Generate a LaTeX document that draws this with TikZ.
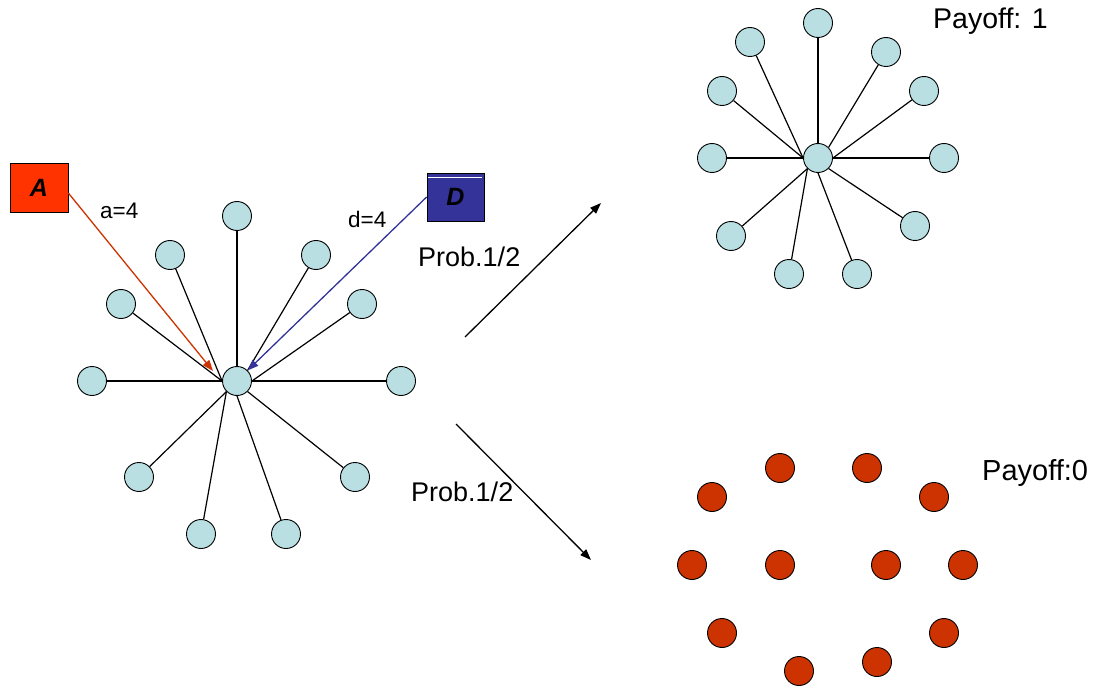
\documentclass[tikz,border=0pt]{standalone}
\usepackage{fontspec}
\setmainfont{Liberation Sans}
\usetikzlibrary{arrows.meta}
\definecolor{leaf}{HTML}{B9DFE2}
\definecolor{lost}{HTML}{CC3300}
\definecolor{abox}{HTML}{FF3300}
\definecolor{aline}{HTML}{CC3300}
\definecolor{dbox}{HTML}{333399}
\begin{document}
\begin{tikzpicture}[x=1pt,y=-1pt,
  vert/.style={circle, draw=black, line width=0.9pt, fill=leaf, minimum size=29pt, inner sep=0pt},
  gone/.style={vert, fill=lost},
  spoke/.style={line width=1.2pt},
  player/.style={rectangle, draw=black, line width=0.7pt, inner sep=0pt,
    font=\fontsize{25}{25}\selectfont\bfseries\itshape},
  lbl/.style={inner sep=0pt, text height=0.716em, text depth=0pt, anchor=west},
  tip/.style={-{Triangle[length=11pt,width=8pt]}},
  move/.style={line width=1.3pt, -{Triangle[length=11pt,width=8pt]}}]
\useasboundingbox (0,0) rectangle (1104,690);

% ---- left star: the targeted hub and its leaves ----
\node[vert] (h1) at (237,381) {};
\node[vert] (l1n)  at (237,216) {};
\node[vert] (l1a)  at (170,255) {};
\node[vert] (l1b)  at (316,255) {};
\node[vert] (l1c)  at (121,304) {};
\node[vert] (l1d)  at (362,304) {};
\node[vert] (l1w)  at (92,381) {};
\node[vert] (l1e)  at (401,381) {};
\node[vert] (l1f)  at (139,477) {};
\node[vert] (l1g)  at (355,477) {};
\node[vert] (l1h)  at (201,534) {};
\node[vert] (l1i)  at (286,534) {};
\draw[spoke] (l1n) -- (h1.north);
\draw[spoke] (l1a) -- (h1.west);
\draw[spoke] (l1c) -- (h1.west);
\draw[spoke] (l1w) -- (h1.west);
\draw[spoke] (l1b) -- (h1.north east);
\draw[spoke] (l1d) -- (h1.east);
\draw[spoke] (l1e) -- (h1.east);
\draw[spoke] (l1f) -- (h1.south west);
\draw[spoke] (l1h) -- (h1.south west);
\draw[spoke] (l1i) -- (h1.south);
\draw[spoke] (l1g) -- (h1.south east);

% ---- attacker and defender ----
\node[player, fill=abox, minimum width=58pt, minimum height=49pt] (A) at (39,187.5) {A};
\node[player, fill=dbox, minimum width=57pt, minimum height=48pt] (D) at (455.5,197) {D};
\draw[white, line width=1pt] (D.north west) ++(1.5pt,-5pt) -- ++(54pt,0);
\coordinate (atip) at (213,371);
\draw[aline, line width=1.3pt, tip] ([yshift=-5.5pt]A.east) -- (atip);
\draw[dbox, line width=1.3pt, tip] (D.west) -- (h1.north east);
\node[lbl, font=\fontsize{22.5}{22.5}\selectfont] (la) at (100,215) {a=4};
\node[lbl, font=\fontsize{22.5}{22.5}\selectfont] (ld) at (348,224) {d=4};

% ---- the two outcomes ----
\coordinate (up0) at (465,337);
\coordinate (up1) at (601,203);
\coordinate (dn0) at (456,424);
\coordinate (dn1) at (591,560);
\draw[move] (up0) -- (up1);
\draw[move] (dn0) -- (dn1);
\node[lbl, font=\fontsize{27}{27}\selectfont] (pu) at (418,263) {Prob.1/2};
\node[lbl, font=\fontsize{27}{27}\selectfont] (pd) at (411,498) {Prob.1/2};

% ---- defended: star survives ----
\node[vert] (h2) at (818,158) {};
\node[vert] (r2n) at (818,23) {};
\node[vert] (r2a) at (750,42) {};
\node[vert] (r2b) at (886,52) {};
\node[vert] (r2c) at (722,91) {};
\node[vert] (r2d) at (924,91) {};
\node[vert] (r2w) at (712,158) {};
\node[vert] (r2e) at (944,158) {};
\node[vert] (r2f) at (731,236) {};
\node[vert] (r2g) at (915,226) {};
\node[vert] (r2h) at (789,274) {};
\node[vert] (r2i) at (857,274) {};
\draw[spoke] (r2n) -- (h2.north);
\draw[spoke] (r2a) -- (h2.west);
\draw[spoke] (r2c) -- (h2.west);
\draw[spoke] (r2w) -- (h2.west);
\draw[spoke] (r2b) -- (h2.north east);
\draw[spoke] (r2d) -- (h2.east);
\draw[spoke] (r2e) -- (h2.east);
\draw[spoke] (r2f) -- (h2.south west);
\draw[spoke] (r2h) -- (h2.south west);
\draw[spoke] (r2i) -- (h2.south);
\draw[spoke] (r2g) -- (h2.south east);
\node[lbl, font=\fontsize{28.5}{28.5}\selectfont] (pay1) at (933,25) {Payoff: 1};

% ---- not defended: every vertex lost ----
\node[gone] (g1)  at (780,468) {};
\node[gone] (g2)  at (867,468) {};
\node[gone] (g3)  at (712,497) {};
\node[gone] (g4)  at (934,497) {};
\node[gone] (g5)  at (692,565) {};
\node[gone] (g6)  at (780,565) {};
\node[gone] (g7)  at (886,565) {};
\node[gone] (g8)  at (963,565) {};
\node[gone] (g9)  at (722,633) {};
\node[gone] (g10) at (944,633) {};
\node[gone] (g11) at (799,671) {};
\node[gone] (g12) at (877,662) {};
\node[lbl, font=\fontsize{29}{29}\selectfont] (pay0) at (982,477) {Payoff:0};
\end{tikzpicture}
\end{document}
